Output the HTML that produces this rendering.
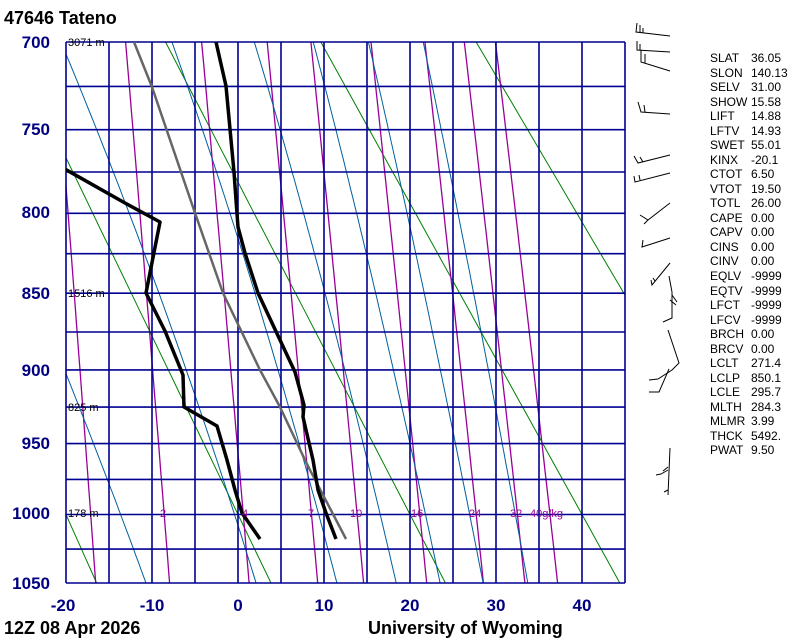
<!DOCTYPE html>
<html><head><meta charset="utf-8">
<style>
html,body{margin:0;padding:0;background:#fff;width:800px;height:640px;overflow:hidden}
svg{display:block}
text{font-family:"Liberation Sans",Arial,sans-serif}
.pl{font-size:17px;font-weight:bold;fill:#000080}
.st{font-size:12px;fill:#000}
.hm{font-size:11px;fill:#000}
.mr{font-size:11px;fill:#990099}
</style></head><body>
<svg id="s" width="800" height="640" xmlns="http://www.w3.org/2000/svg">
<defs><clipPath id="c"><rect x="66" y="42" width="559" height="541"/></clipPath></defs>
<g id="bg" clip-path="url(#c)"></g>
<g id="grid" stroke="#000090" stroke-width="1.6" fill="none"></g>
<g clip-path="url(#c)" fill="none" stroke-linejoin="round">
<polyline stroke="#666" stroke-width="2.5" points="134,42 152,87 195,213 223,293 260,370 280,407 305,460 310,470 346,539"/>
<polyline stroke="#000" stroke-width="3.5" points="216,42 226,86 230,129 234,172 236,200 238,227 245,253 258,293 280,340 295,372 304,405 303,417 313,460 318,490 326,513 336,539"/>
<polyline stroke="#000" stroke-width="3.5" points="63,168 125,203 160,222 146,293 165,331 183,375 184,407 217,426 227,460 235,490 242,513 260,539"/>
</g>
<text x="4" y="24" style="font-size:18px;font-weight:bold">47646  Tateno</text>
<g class="pl" text-anchor="end">
<text x="50" y="48">700</text><text x="50" y="135">750</text><text x="50" y="218">800</text><text x="50" y="299">850</text><text x="50" y="376">900</text><text x="50" y="449">950</text><text x="50" y="519">1000</text><text x="50" y="589">1050</text>
</g>
<g class="pl" text-anchor="middle">
<text x="63" y="611">-20</text><text x="152" y="611">-10</text><text x="238" y="611">0</text><text x="324" y="611">10</text><text x="410" y="611">20</text><text x="496" y="611">30</text><text x="582" y="611">40</text>
</g>
<text x="4" y="634" style="font-size:18px;font-weight:bold">12Z 08 Apr 2026</text>
<text x="368" y="634" style="font-size:18px;font-weight:bold">University of Wyoming</text>
<g class="hm"><text x="68" y="46">3071 m</text><text x="68" y="297">1516 m</text><text x="68" y="411">825 m</text><text x="68" y="517">178 m</text></g>
<g class="mr"><text x="160" y="517">2</text><text x="242" y="517">4</text><text x="308" y="517">7</text><text x="350" y="517">10</text><text x="411" y="517">16</text><text x="469" y="517">24</text><text x="510" y="517">32</text><text x="530" y="517">40g/kg</text></g>
<g class="st">
<text x="710" y="62">SLAT</text><text x="751" y="62">36.05</text>
<text x="710" y="77">SLON</text><text x="751" y="77">140.13</text>
<text x="710" y="91">SELV</text><text x="751" y="91">31.00</text>
<text x="710" y="106">SHOW</text><text x="751" y="106">15.58</text>
<text x="710" y="120">LIFT</text><text x="751" y="120">14.88</text>
<text x="710" y="135">LFTV</text><text x="751" y="135">14.93</text>
<text x="710" y="149">SWET</text><text x="751" y="149">55.01</text>
<text x="710" y="164">KINX</text><text x="751" y="164">-20.1</text>
<text x="710" y="178">CTOT</text><text x="751" y="178">6.50</text>
<text x="710" y="193">VTOT</text><text x="751" y="193">19.50</text>
<text x="710" y="207">TOTL</text><text x="751" y="207">26.00</text>
<text x="710" y="222">CAPE</text><text x="751" y="222">0.00</text>
<text x="710" y="236">CAPV</text><text x="751" y="236">0.00</text>
<text x="710" y="251">CINS</text><text x="751" y="251">0.00</text>
<text x="710" y="265">CINV</text><text x="751" y="265">0.00</text>
<text x="710" y="280">EQLV</text><text x="751" y="280">-9999</text>
<text x="710" y="295">EQTV</text><text x="751" y="295">-9999</text>
<text x="710" y="309">LFCT</text><text x="751" y="309">-9999</text>
<text x="710" y="324">LFCV</text><text x="751" y="324">-9999</text>
<text x="710" y="338">BRCH</text><text x="751" y="338">0.00</text>
<text x="710" y="353">BRCV</text><text x="751" y="353">0.00</text>
<text x="710" y="367">LCLT</text><text x="751" y="367">271.4</text>
<text x="710" y="382">LCLP</text><text x="751" y="382">850.1</text>
<text x="710" y="396">LCLE</text><text x="751" y="396">295.7</text>
<text x="710" y="411">MLTH</text><text x="751" y="411">284.3</text>
<text x="710" y="425">MLMR</text><text x="751" y="425">3.99</text>
<text x="710" y="440">THCK</text><text x="751" y="440">5492.</text>
<text x="710" y="454">PWAT</text><text x="751" y="454">9.50</text>
</g>
<g stroke="#000" stroke-width="1" fill="none">
<polyline points="637,23 636,32 670,36"/><line x1="640" y1="25" x2="640" y2="33"/><line x1="643" y1="28" x2="643" y2="33"/>
<polyline points="637,41 637,50 670,52"/><line x1="640" y1="44" x2="640" y2="50"/>
<polyline points="641,50 641,62 670,71"/><line x1="645" y1="54" x2="645" y2="63"/>
<polyline points="638,102 641,112 670,114"/><line x1="644" y1="105" x2="645" y2="112"/>
<polyline points="634,156 638,163 670,155"/><line x1="640" y1="157" x2="643" y2="162"/>
<polyline points="634,176 635,182 670,173"/><line x1="639" y1="175" x2="640" y2="180"/>
<polyline points="640,215 648,220 670,203"/><line x1="644" y1="224" x2="648" y2="220"/>
<polyline points="643,240 642,247 670,238"/>
<polyline points="651,280 652,285 670,263"/><line x1="653" y1="278" x2="655" y2="281"/>
<polyline points="669,276 672,292 672,318 663,322"/><line x1="672" y1="295" x2="677" y2="302"/><line x1="670" y1="300" x2="676" y2="305"/>
<polyline points="668,330 679,363 672,370 658,379 649,380"/>
<polyline points="669,369 659,392 649,392"/>
<polyline points="670,448 668,495"/><polyline points="668,470 661,474 656,475"/><line x1="668" y1="467" x2="663" y2="471"/><line x1="668" y1="490" x2="664" y2="492"/>
</g>
</svg>
<script>
(function(){
var NS="http://www.w3.org/2000/svg",K=0.286;
var a=Math.pow(1050,K),b=Math.pow(700,K);
function Y(p){return 583-541*(a-Math.pow(p,K))/(a-b);}
function X(t){return 238+8.6*t;}
var bg=document.getElementById('bg'),gr=document.getElementById('grid');
function pl(par,pts,col,w){var e=document.createElementNS(NS,'polyline');e.setAttribute('points',pts.map(function(q){return q[0].toFixed(1)+','+q[1].toFixed(1)}).join(' '));e.setAttribute('stroke',col);e.setAttribute('stroke-width',w);e.setAttribute('fill','none');par.appendChild(e);}
// grid
for(var t=-20;t<=45;t+=5){pl(gr,[[X(t),42],[X(t),583]],'#000090',1.6);}
for(var p=700;p<=1050;p+=25){pl(gr,[[66,Y(p)],[625,Y(p)]],'#000090',1.6);}
// dry adiabats
for(var n=-5;n<=6;n++){var th=273.15+20*n,pts=[];for(var p=690;p<=1060;p+=10){pts.push([X(th*Math.pow(p/1000,K)-273.15),Y(p)]);}pl(bg,pts,'#008000',1);}
// mixing ratio
[1,2,4,7,10,16,24,32,40].forEach(function(w){var pts=[];for(var p=690;p<=1060;p+=10){var e=w*p/(622+w),l=Math.log(e/6.112);pts.push([X(243.5*l/(17.67-l)),Y(p)]);}pl(bg,pts,'#990099',1.3);});
// moist adiabats
function es(tc){return 6.112*Math.exp(17.67*tc/(tc+243.5));}
[-10.7,2.1,11.5,18.4,23.5,28.5,33.7].forEach(function(t0){var T=t0+273.15,p=1060,pts=[];
 // step from 1050 start; adjust first to hit 1050 value
 p=1050;pts.push([X(t0),Y(1050)]);
 // downward small extension
 var T2=T,p2=1050;for(var i=0;i<4;i++){var r=0.622*es(T2-273.15)/(p2-es(T2-273.15));var d=(287*T2+2.5e6*r)/(p2*(1004+2.5e6*2.5e6*r*0.622/(287*T2*T2)));T2+=d*2.5;p2+=2.5;}
 pts.unshift([X(T2-273.15),Y(p2)]);
 while(p>690){var r=0.622*es(T-273.15)/(p-es(T-273.15));var d=(287*T+2.5e6*r)/(p*(1004+2.5e6*2.5e6*r*0.622/(287*T*T)));T-=d*5;p-=5;pts.push([X(T-273.15),Y(p)]);}
 pl(bg,pts,'#005f9f',1);});
})();
</script>
</body></html>
